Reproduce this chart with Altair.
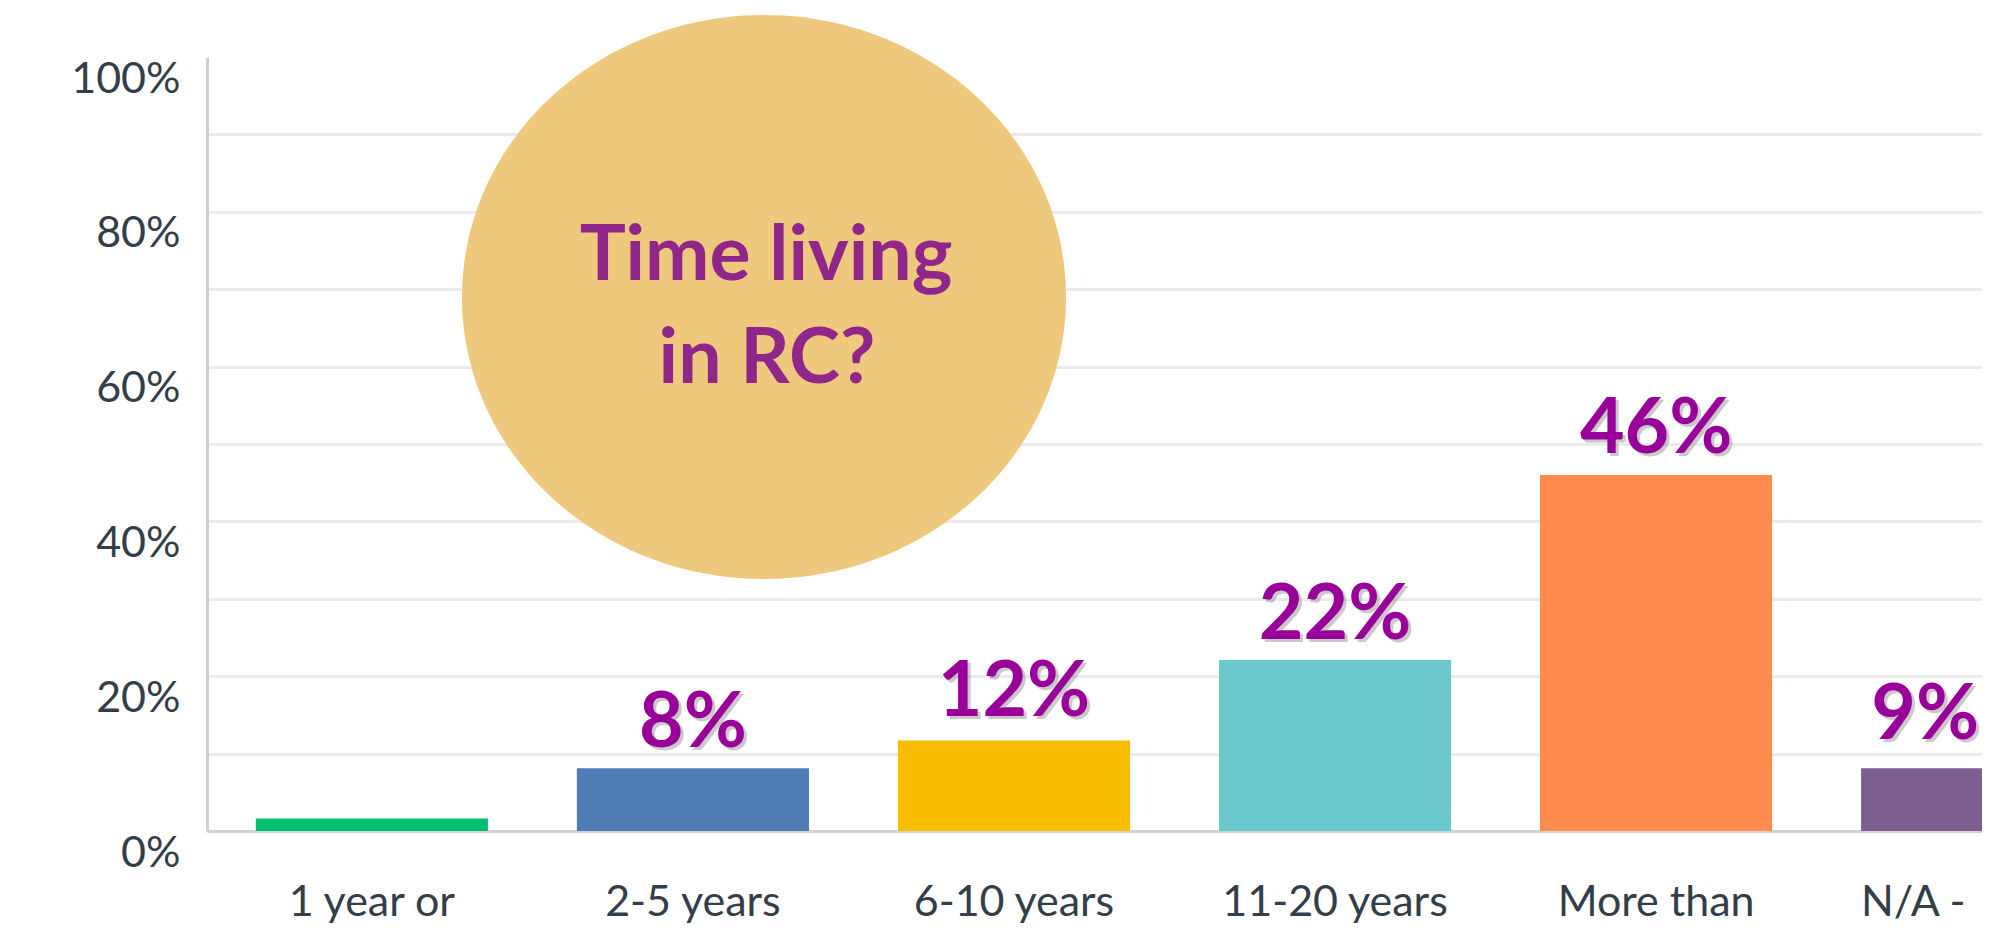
import altair as alt
import pandas as pd

# ---- data ----
categories = ["1 year or", "2-5 years", "6-10 years", "11-20 years", "More than", "N/A -"]
bar_values = [1.6, 8.1, 11.7, 22.1, 46.0, 8.1]
label_values = [0, 8, 12, 22, 46, 9]
label_texts = ["", "8%", "12%", "22%", "46%", "9%"]
bar_colors = ["#00BF6F", "#507CB6", "#F9BE00", "#6BC8CD", "#FF8B4F", "#7D5E90"]
y_ticks = [0, 10, 20, 30, 40, 50, 60, 70, 80, 90, 100]
annotation_lines = ["Time living", "in RC?"]

df = pd.DataFrame({
    "category": categories,
    "value": bar_values,
    "label_value": label_values,
    "label": label_texts,
})

PLOT_W = 1775
PLOT_H = 774

x_scale = alt.Scale(domain=categories, range=[0, 1935], paddingInner=0.277, paddingOuter=0.152)
y_scale = alt.Scale(domain=[0, 100], nice=False, zero=True)

x_enc = alt.X(
    "category:N",
    scale=x_scale,
    sort=categories,
    axis=alt.Axis(
        title=None,
        labelAngle=0,
        labelFont="Lato",
        labelFontSize=43,
        labelColor="#333E48",
        labelPadding=84,
        labelBaseline="alphabetic",
        labelOverlap=False,
        labelLimit=0,
        labelOffset={"condition": {"test": "datum.value == 'N/A -'", "value": -64}, "value": 0},
        ticks=False,
        domain=True,
        domainColor="#D3D3D3",
        domainWidth=3,
        grid=False,
    ),
)

y_enc = alt.Y(
    "value:Q",
    scale=y_scale,
    axis=alt.Axis(
        title=None,
        values=y_ticks,
        labelExpr="datum.value % 20 == 0 ? datum.value + '%' : ''",
        labelFont="Lato",
        labelFontSize=43,
        labelColor="#333E48",
        labelPadding=27,
        labelOffset=22,
        labelOverlap=False,
        ticks=False,
        domain=True,
        domainColor="#CFCFCF",
        domainWidth=3,
        grid=True,
        gridColor="#EAECEC",
        gridWidth=3,
        gridOpacity={"condition": {"test": "datum.value == 100", "value": 0}, "value": 1},
    ),
)

bars = alt.Chart(df).mark_bar(clip=True).encode(
    x=x_enc,
    y=y_enc,
    color=alt.Color("category:N", scale=alt.Scale(domain=categories, range=bar_colors), legend=None),
)

labeled = alt.Chart(df).transform_filter("datum.label != ''")


def label_layer(filter_expr, dx, color, opacity, extra):
    return labeled.transform_filter(filter_expr).mark_text(
        font="Lato",
        fontSize=77,
        fontWeight="bold",
        align="center",
        baseline="alphabetic",
        dx=dx + extra,
        dy=-22 + extra,
        color=color,
        opacity=opacity,
    ).encode(
        x=alt.X("category:N", scale=x_scale, sort=categories),
        y=alt.Y("label_value:Q", scale=y_scale),
        text="label:N",
    )


main_filter = "datum.category != 'N/A -'"
last_filter = "datum.category == 'N/A -'"

shadow_main = label_layer(main_filter, 0, "#8a8a8a", 0.45, 3)
shadow_last = label_layer(last_filter, -52, "#8a8a8a", 0.45, 3)
text_main = label_layer(main_filter, 0, "#990099", 1, 0)
text_last = label_layer(last_filter, -52, "#990099", 1, 0)

ellipse_path = "M-1.071,0A1.071,1,0,1,1,1.071,0A1.071,1,0,1,1,-1.071,0Z"
ann_df = pd.DataFrame({"line1": [annotation_lines[0]], "line2": [annotation_lines[1]]})

bubble = alt.Chart(ann_df).mark_point(
    shape=ellipse_path,
    size=318096,
    filled=True,
    color="#EEC97D",
    opacity=1,
    strokeWidth=0,
).encode(x=alt.value(557), y=alt.value(240))

ann1 = alt.Chart(ann_df).mark_text(
    font="Lato", fontSize=77, fontWeight="bold", color="#91268A",
    align="center", baseline="alphabetic",
).encode(x=alt.value(559), y=alt.value(223), text="line1:N")

ann2 = alt.Chart(ann_df).mark_text(
    font="Lato", fontSize=77, fontWeight="bold", color="#91268A",
    align="center", baseline="alphabetic",
).encode(x=alt.value(560), y=alt.value(326), text="line2:N")

chart = alt.layer(
    bars, bubble, ann1, ann2, shadow_main, shadow_last, text_main, text_last
).properties(
    width=PLOT_W,
    height=PLOT_H,
    autosize=alt.AutoSizeParams(type="none"),
    padding={"left": 199, "top": 49, "right": 0, "bottom": 94},
    background="white",
).configure_view(stroke=None)

chart.save("out.html", embed_options={"renderer": "svg", "actions": False})
